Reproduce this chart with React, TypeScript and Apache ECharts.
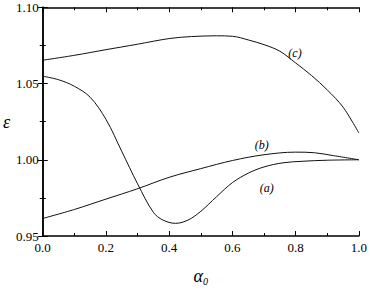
import React, { useEffect, useRef } from "react";
import * as echarts from "echarts";

const alphaA = [0, 0.05, 0.1, 0.15, 0.2, 0.25, 0.3, 0.35, 0.38, 0.42, 0.46, 0.5, 0.55, 0.6, 0.65, 0.7, 0.76, 0.82, 0.9, 1.0];
const epsA = [1.0548, 1.0525, 1.0482, 1.041, 1.0265, 1.0055, 0.9842, 0.9655, 0.9605, 0.9583, 0.9605, 0.9662, 0.9758, 0.985, 0.9912, 0.9953, 0.998, 0.999, 0.9997, 1.0];

const alphaB = [0, 0.1, 0.2, 0.3, 0.4, 0.5, 0.6, 0.7, 0.8, 0.86, 0.92, 1.0];
const epsB = [0.9615, 0.9674, 0.9742, 0.981, 0.9885, 0.9942, 0.9995, 1.0033, 1.005, 1.0046, 1.0027, 1.0];

const alphaC = [0, 0.1, 0.2, 0.3, 0.4, 0.47, 0.55, 0.6, 0.65, 0.7, 0.75, 0.8, 0.85, 0.9, 0.95, 1.0];
const epsC = [1.0653, 1.0685, 1.0722, 1.0758, 1.0795, 1.0808, 1.0813, 1.081, 1.0786, 1.0755, 1.0712, 1.0635, 1.0553, 1.0458, 1.0345, 1.0175];

const xTicks = ["0.0", "0.2", "0.4", "0.6", "0.8", "1.0"];
const yTicks = ["0.95", "1.00", "1.05", "1.10"];

const curveLabels = ["(a)", "(b)", "(c)"];

const serif = "Liberation Serif";

export default function App() {
  const ref = useRef<HTMLDivElement>(null);
  useEffect(() => {
    const chart = echarts.init(ref.current!, null, { renderer: "svg" });
    const pair = (xs: number[], ys: number[]) => xs.map((x, i) => [x, ys[i]]);
    const tick = { show: true, inside: true, length: 5, lineStyle: { color: "#000", width: 1 } };
    const minor = { show: true, splitNumber: 2, length: 3, lineStyle: { color: "#000", width: 1 } };
    const axisCommon = {
      type: "value" as const,
      axisLine: { show: true, lineStyle: { color: "#000", width: 1.5 } },
      splitLine: { show: false },
      minorSplitLine: { show: false },
      axisTick: tick,
      minorTick: minor,
    };
    const lineSeries = (name: string, xs: number[], ys: number[]) => ({
      name,
      type: "line",
      data: pair(xs, ys),
      smooth: 0.35,
      showSymbol: false,
      lineStyle: { color: "#111", width: 1 },
      xAxisIndex: 0,
      yAxisIndex: 0,
    });
    const labelStyle = { fontFamily: serif, fontSize: 13, color: "#000" };
    chart.setOption({
      animation: false,
      backgroundColor: "#fff",
      textStyle: { fontFamily: serif },
      grid: { left: 42.5, right: 9.5, top: 7.3, bottom: 45.3 },
      xAxis: [
        {
          ...axisCommon,
          min: 0,
          max: 1,
          interval: 0.2,
          position: "bottom",
          axisLabel: {
            ...labelStyle,
            margin: 5,
            formatter: (v: number) => xTicks[Math.round(v / 0.2)] ?? "",
          },
          name: "{a|α}{s|0}",
          nameLocation: "middle",
          nameGap: 30,
          nameTextStyle: {
            rich: {
              a: { fontFamily: serif, fontStyle: "italic", fontSize: 18, color: "#000" },
              s: { fontFamily: serif, fontStyle: "italic", fontSize: 10, color: "#000", padding: [10, 0, 0, 0] },
            },
          },
        },
        {
          ...axisCommon,
          min: 0,
          max: 1,
          interval: 0.2,
          position: "top",
          axisLabel: { show: false },
        },
      ],
      yAxis: [
        {
          ...axisCommon,
          min: 0.95,
          max: 1.1,
          interval: 0.05,
          position: "left",
          axisLabel: {
            ...labelStyle,
            margin: 4,
            formatter: (v: number) => yTicks[Math.round((v - 0.95) / 0.05)] ?? "",
          },
          name: "ε",
          nameLocation: "middle",
          nameRotate: 0,
          nameGap: 28,
          nameTextStyle: { fontFamily: serif, fontStyle: "italic", fontSize: 18, color: "#000" },
        },
        {
          ...axisCommon,
          min: 0.95,
          max: 1.1,
          interval: 0.05,
          position: "right",
          axisLabel: { show: false },
        },
      ],
      series: [
        lineSeries("a", alphaA, epsA),
        lineSeries("b", alphaB, epsB),
        lineSeries("c", alphaC, epsC),
      ],
      graphic: [
        { type: "text", x: 266.7, y: 188.3, style: { text: curveLabels[0], fontFamily: serif, fontStyle: "italic", fontSize: 12, fill: "#000", align: "center", verticalAlign: "middle" } },
        { type: "text", x: 261.7, y: 145, style: { text: curveLabels[1], fontFamily: serif, fontStyle: "italic", fontSize: 12, fill: "#000", align: "center", verticalAlign: "middle" } },
        { type: "text", x: 295, y: 53, style: { text: curveLabels[2], fontFamily: serif, fontStyle: "italic", fontSize: 12, fill: "#000", align: "center", verticalAlign: "middle" } },
      ],
    });
    return () => chart.dispose();
  }, []);
  return <div ref={ref} style={{ width: 370, height: 291, position: "fixed", left: 0, top: 0 }} />;
}
